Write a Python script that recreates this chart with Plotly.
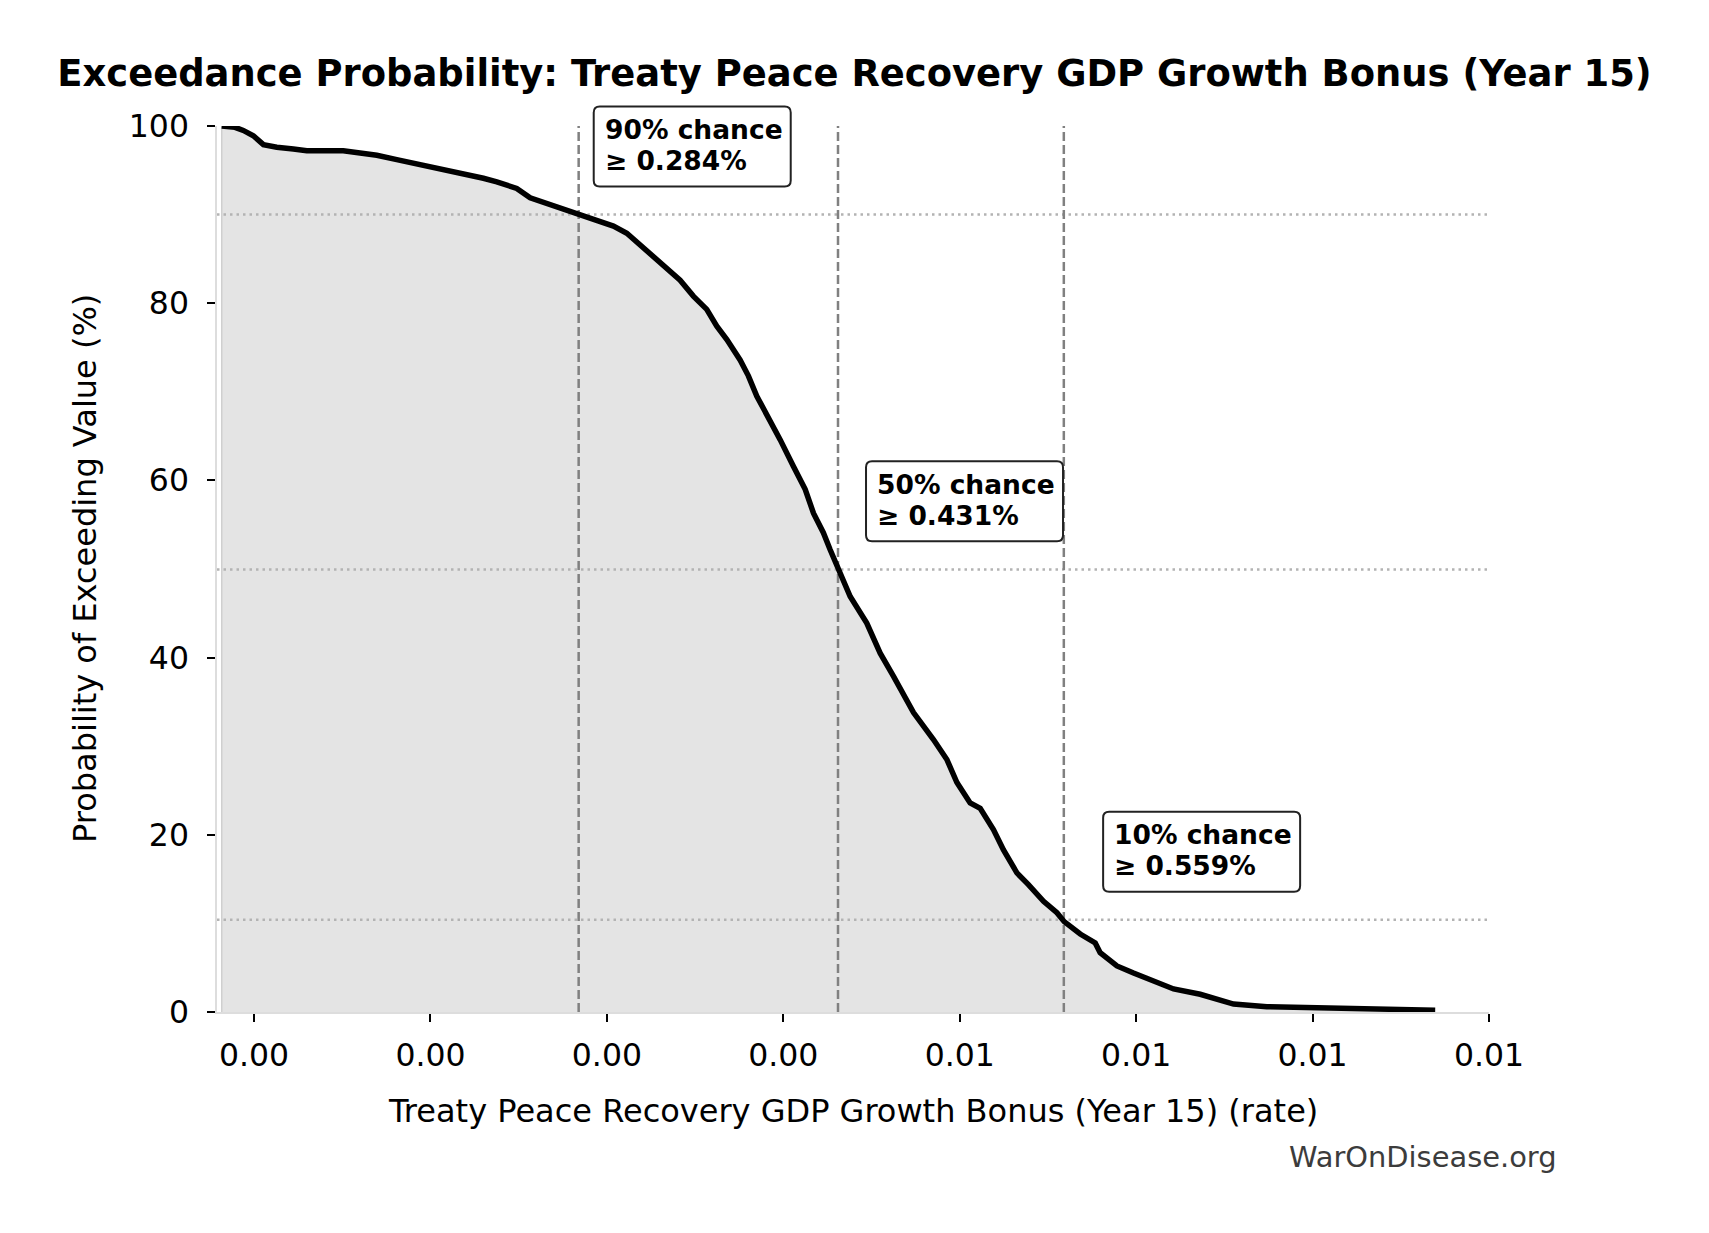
import plotly.graph_objects as go

# ---------------- data ----------------
growth_rate = [
    0.000817, 0.000892, 0.000939, 0.000996, 0.001053, 0.001129, 0.001223, 0.001299,
    0.001506, 0.001582, 0.001696, 0.001809, 0.001884, 0.001979, 0.002073, 0.002206,
    0.002300, 0.002376, 0.002489, 0.002565, 0.002640, 0.002735, 0.002810, 0.002848,
    0.002924, 0.003037, 0.003113, 0.003188, 0.003283, 0.003340, 0.003415, 0.003490,
    0.003566, 0.003623, 0.003680, 0.003755, 0.003802, 0.003850, 0.003916, 0.003982,
    0.004057, 0.004124, 0.004171, 0.004227, 0.004265, 0.004312, 0.004379, 0.004473,
    0.004549, 0.004624, 0.004738, 0.004851, 0.004927, 0.004984, 0.005059, 0.005116,
    0.005191, 0.005248, 0.005324, 0.005388, 0.005475, 0.005551, 0.005592, 0.005683,
    0.005768, 0.005796, 0.005891, 0.005985, 0.006079, 0.006212, 0.006363, 0.006458,
    0.006552, 0.006741, 0.007024, 0.007119, 0.007497, 0.007695,
]
exceed_pct = [
    100.0, 99.85, 99.5, 98.9, 97.9, 97.6, 97.4, 97.2,
    97.2, 97.0, 96.7, 96.2, 95.9, 95.45, 95.1, 94.5,
    94.1, 93.7, 92.95, 91.9, 91.4, 90.8, 90.15, 90.0,
    89.5, 88.7, 87.9, 86.6, 84.9, 84.0, 82.6, 80.8,
    79.3, 77.4, 75.9, 73.6, 71.8, 69.5, 67.2, 64.6,
    61.6, 59.0, 56.3, 54.1, 52.2, 50.0, 46.9, 43.9,
    40.5, 37.9, 33.8, 30.75, 28.5, 25.9, 23.6, 23.0,
    20.6, 18.3, 15.7, 14.4, 12.5, 11.2, 10.2, 8.8,
    7.8, 6.7, 5.2, 4.4, 3.7, 2.6, 2.0, 1.4,
    0.9, 0.6, 0.45, 0.4, 0.3, 0.2,
]

chance_levels = [90, 50, 10]
level_values = [0.00284, 0.00431, 0.00559]
level_exceed = [90.0, 49.95, 10.4]

x_tickvals = [0.001, 0.002, 0.003, 0.004, 0.005, 0.006, 0.007, 0.008]
x_ticktext = ["0.00", "0.00", "0.00", "0.00", "0.01", "0.01", "0.01", "0.01"]
y_tickvals = [0, 20, 40, 60, 80, 100]
x_range = [0.00079, 0.0080]
y_range = [0, 100]

title_text = "Exceedance Probability: Treaty Peace Recovery GDP Growth Bonus (Year 15)"
x_title = "Treaty Peace Recovery GDP Growth Bonus (Year 15) (rate)"
y_title = "Probability of Exceeding Value (%)"
watermark = "WarOnDisease.org"

FONT = "DejaVu Sans"

# ---------------- figure ----------------
fig = go.Figure()

# shaded area under the curve
fig.add_trace(go.Scatter(
    x=growth_rate, y=exceed_pct, mode="lines", fill="tozeroy",
    fillcolor="rgb(228,228,228)", line=dict(width=0, color="rgba(0,0,0,0)"),
    hoverinfo="skip",
))

# left edge of the shaded area
fig.add_trace(go.Scatter(
    x=[growth_rate[0], growth_rate[0]], y=[y_range[0], exceed_pct[0]], mode="lines",
    line=dict(color="#cfcfcf", width=1.5), hoverinfo="skip",
))

# horizontal dotted reference lines
for e in level_exceed:
    fig.add_trace(go.Scatter(
        x=x_range, y=[e, e], mode="lines",
        line=dict(color="#b3b3b3", width=2.5, dash="2.5px,4px"),
        hoverinfo="skip",
    ))

# vertical dashed percentile lines
for v in level_values:
    fig.add_trace(go.Scatter(
        x=[v, v], y=y_range, mode="lines",
        line=dict(color="#808080", width=2.5, dash="9px,4px"),
        hoverinfo="skip",
    ))

# exceedance curve
fig.add_trace(go.Scatter(
    x=growth_rate, y=exceed_pct, mode="lines",
    line=dict(color="black", width=5.5),
))

# annotation boxes (rounded, pixel sized, anchored at data x / paper y)
BOX_W, BOX_H, PADL, R = 197, 80, 10, 6
x0, x1 = -PADL, BOX_W - PADL
y0, y1 = -BOX_H / 2, BOX_H / 2
box_path = (
    f"M {x0 + R},{y0} L {x1 - R},{y0} Q {x1},{y0} {x1},{y0 + R} "
    f"L {x1},{y1 - R} Q {x1},{y1} {x1 - R},{y1} "
    f"L {x0 + R},{y1} Q {x0},{y1} {x0},{y1 - R} "
    f"L {x0},{y0 + R} Q {x0},{y0} {x0 + R},{y0} Z"
)

annotations = []
shapes = []
for lvl, v, e in zip(chance_levels, level_values, level_exceed):
    ax = v * 1.05
    ay = e + 7.7
    ay_paper = (ay - y_range[0]) / (y_range[1] - y_range[0])
    shapes.append(dict(
        type="path", xref="x", yref="paper", xsizemode="pixel", ysizemode="pixel",
        xanchor=ax, yanchor=ay_paper, path=box_path,
        line=dict(color="#222222", width=2), fillcolor="white", layer="above",
    ))
    annotations.append(dict(
        x=ax, y=ay, xref="x", yref="y", xanchor="left", yanchor="middle",
        text=f"<b>{lvl}% chance</b>", showarrow=False, yshift=17, borderpad=0,
        font=dict(family=FONT, size=26.5, color="black"),
    ))
    annotations.append(dict(
        x=ax, y=ay, xref="x", yref="y", xanchor="left", yanchor="middle",
        text=f"<b>≥ {v * 100:.3f}%</b>", showarrow=False, yshift=-14, borderpad=0,
        font=dict(family=FONT, size=26.5, color="black"),
    ))

# axis titles and watermark
annotations.append(dict(
    x=0.5, y=0, xref="paper", yref="paper", xanchor="center", yanchor="middle",
    yshift=-99, text=x_title, showarrow=False,
    font=dict(family=FONT, size=32, color="black"),
))
annotations.append(dict(
    x=0, y=0.5, xref="paper", yref="paper", xanchor="center", yanchor="middle",
    xshift=-132, text=y_title, textangle=-90, showarrow=False,
    font=dict(family=FONT, size=32, color="black"),
))
annotations.append(dict(
    x=1, y=0, xref="paper", yref="paper", xanchor="right", yanchor="middle",
    xshift=70, yshift=-145, text=watermark, showarrow=False,
    font=dict(family=FONT, size=28.9, color="#3c3c3c"),
))

fig.update_layout(
    width=1709, height=1233,
    margin=dict(l=217, r=220, t=126, b=220.5, pad=0),
    plot_bgcolor="white", paper_bgcolor="white",
    showlegend=False,
    font=dict(family=FONT, color="black"),
    title=dict(
        text=f"<b>{title_text}</b>", x=0.5, xref="container", xanchor="center",
        y=1 - 73 / 1233, yref="container", yanchor="middle",
        font=dict(family=FONT, size=36.9, color="black"),
    ),
    annotations=annotations,
    shapes=shapes,
)

fig.update_xaxes(
    range=x_range, tickvals=x_tickvals, ticktext=x_ticktext,
    ticks="outside", ticklen=8, tickwidth=1.5, tickcolor="black",
    showline=True, linecolor="#dddddd", linewidth=1.5,
    showgrid=False, zeroline=False, ticklabelstandoff=6,
    tickfont=dict(family=FONT, size=31.5, color="black"),
)
fig.update_yaxes(
    range=y_range, tickvals=y_tickvals,
    ticks="outside", ticklen=8, tickwidth=1.5, tickcolor="black",
    showline=True, linecolor="#dddddd", linewidth=1.5,
    showgrid=False, zeroline=False, ticklabelstandoff=12,
    tickfont=dict(family=FONT, size=31.5, color="black"),
)

fig.write_html("out.html")
